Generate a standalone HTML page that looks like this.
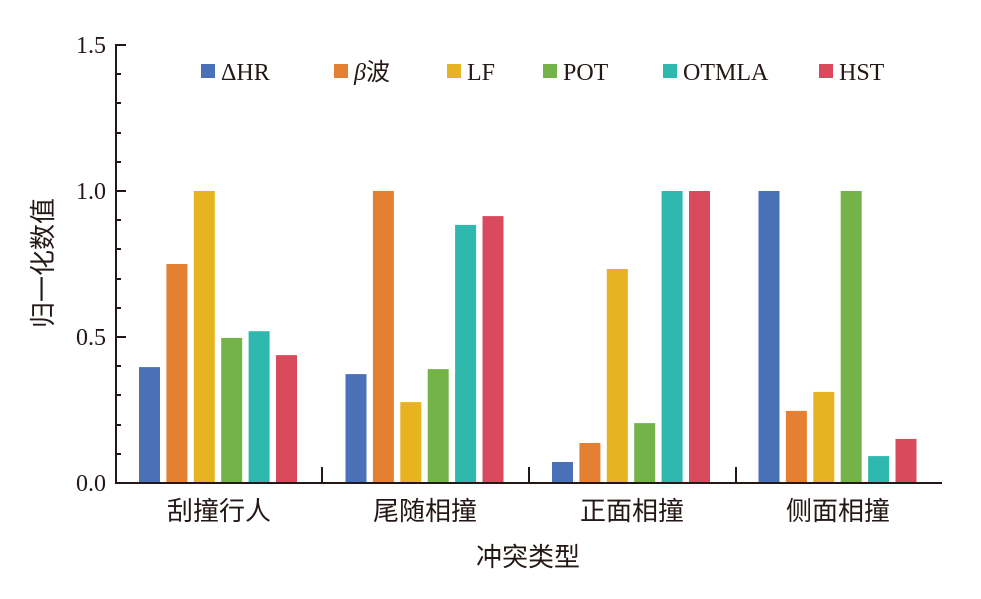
<!DOCTYPE html>
<html><head><meta charset="utf-8"><style>body{margin:0;background:#fff}</style></head><body>
<svg width="981" height="594" xmlns="http://www.w3.org/2000/svg" font-family="'Liberation Serif','Noto Serif CJK SC',serif">
<g>
<rect x="139" y="367.1" width="21" height="115.9" fill="#4a70b8"/>
<rect x="166.4" y="264" width="21" height="219" fill="#e58033"/>
<rect x="193.8" y="191" width="21" height="292" fill="#e8b320"/>
<rect x="221.2" y="337.9" width="21" height="145.1" fill="#74b347"/>
<rect x="248.6" y="331.2" width="21" height="151.8" fill="#2fb8ad"/>
<rect x="276" y="355.1" width="21" height="127.9" fill="#d94a5c"/>
<rect x="345.5" y="374.1" width="21" height="108.9" fill="#4a70b8"/>
<rect x="372.9" y="191" width="21" height="292" fill="#e58033"/>
<rect x="400.3" y="402.1" width="21" height="80.9" fill="#e8b320"/>
<rect x="427.7" y="369.1" width="21" height="113.9" fill="#74b347"/>
<rect x="455.1" y="224.9" width="21" height="258.1" fill="#2fb8ad"/>
<rect x="482.5" y="216.1" width="21" height="266.9" fill="#d94a5c"/>
<rect x="552" y="462" width="21" height="21" fill="#4a70b8"/>
<rect x="579.4" y="443" width="21" height="40" fill="#e58033"/>
<rect x="606.8" y="269" width="21" height="214" fill="#e8b320"/>
<rect x="634.2" y="423.1" width="21" height="59.9" fill="#74b347"/>
<rect x="661.6" y="191" width="21" height="292" fill="#2fb8ad"/>
<rect x="689" y="191" width="21" height="292" fill="#d94a5c"/>
<rect x="758.5" y="191" width="21" height="292" fill="#4a70b8"/>
<rect x="785.9" y="410.9" width="21" height="72.1" fill="#e58033"/>
<rect x="813.3" y="391.9" width="21" height="91.1" fill="#e8b320"/>
<rect x="840.7" y="191" width="21" height="292" fill="#74b347"/>
<rect x="868.1" y="456.1" width="21" height="26.9" fill="#2fb8ad"/>
<rect x="895.5" y="438.9" width="21" height="44.1" fill="#d94a5c"/>
</g>
<g stroke="#231815" stroke-width="2" fill="none">
<line x1="116" y1="44" x2="116" y2="484"/>
<line x1="115" y1="483" x2="942" y2="483"/>
<line x1="116" y1="45" x2="126" y2="45"/><line x1="116" y1="191" x2="126" y2="191"/><line x1="116" y1="337" x2="126" y2="337"/>
<path d="M116 74h5M116 103h5M116 133h5M116 162h5M116 220h5M116 249h5M116 279h5M116 308h5M116 366h5M116 395h5M116 425h5M116 454h5"/>
<line x1="322" y1="483" x2="322" y2="467"/><line x1="529" y1="483" x2="529" y2="467"/><line x1="736" y1="483" x2="736" y2="467"/>
</g>
<g font-size="24" fill="#231815" text-anchor="end">
<text x="106" y="53">1.5</text><text x="106" y="199">1.0</text><text x="106" y="345">0.5</text><text x="106" y="491">0.0</text>
</g>
<g font-size="26" fill="#231815" text-anchor="middle" font-family="'Noto Sans CJK SC',sans-serif">
<text x="219" y="520">刮撞行人</text><text x="425" y="520">尾随相撞</text><text x="632" y="520">正面相撞</text><text x="838" y="520">侧面相撞</text>
<text x="528" y="566">冲突类型</text>
<text transform="translate(52,263) rotate(-90)">归一化数值</text>
</g>
<g font-size="24" fill="#231815">
<rect x="201" y="64" width="14" height="14" fill="#4a70b8"/><text x="221" y="80">ΔHR</text>
<rect x="334" y="64" width="14" height="14" fill="#e58033"/><text x="354" y="80"><tspan font-style="italic">β</tspan><tspan font-family="'Noto Sans CJK SC',sans-serif">波</tspan></text>
<rect x="447" y="64" width="14" height="14" fill="#e8b320"/><text x="467" y="80">LF</text>
<rect x="543" y="64" width="14" height="14" fill="#74b347"/><text x="563" y="80">POT</text>
<rect x="663" y="64" width="14" height="14" fill="#2fb8ad"/><text x="683" y="80">OTMLA</text>
<rect x="819" y="64" width="14" height="14" fill="#d94a5c"/><text x="839" y="80">HST</text>
</g>
</svg>
</body></html>
